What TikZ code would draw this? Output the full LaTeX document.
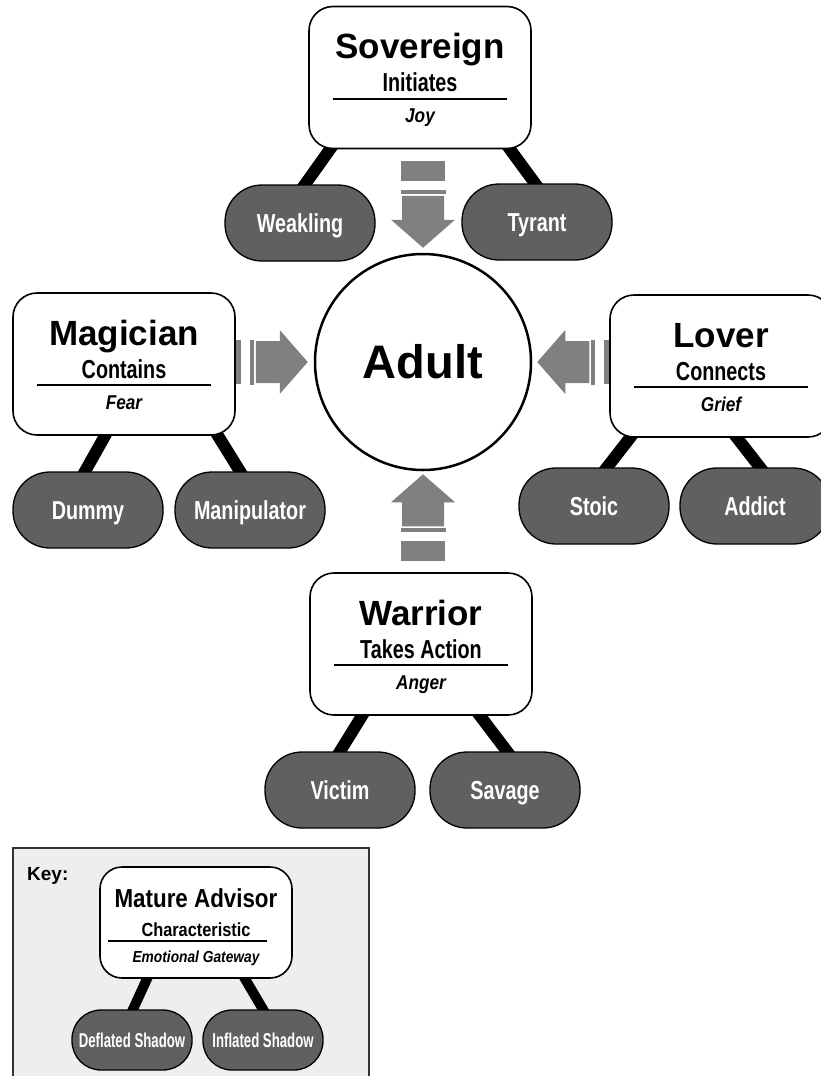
\documentclass[tikz,border=0pt]{standalone}
\usepackage{fontspec}
\setmainfont{Liberation Sans}
\newfontfamily\condfont[FakeStretch=0.76]{Liberation Sans}
\newfontfamily\midfont[FakeStretch=0.86]{Liberation Sans}
\newfontfamily\tightfont[FakeStretch=0.66]{Liberation Sans}
\pgfdeclarelayer{background}
\pgfsetlayers{background,main}
\definecolor{shadowgray}{HTML}{606060}
\definecolor{arrowgray}{HTML}{808080}
\definecolor{keygray}{HTML}{EEEEEE}
\tikzset{
advisor/.style={
	draw, line width=1.6pt, fill=white, rounded corners=24pt,
	minimum width=222pt, minimum height=142pt, inner sep=0pt},
adult/.style={
	draw, circle, line width=2.5pt, fill=white, minimum size=216pt,
	inner sep=0pt, font=\bfseries\fontsize{47}{50}\selectfont,
	text height=33.6pt, text depth=0pt},
shadowpill/.style={
	draw, line width=1.3pt, fill=shadowgray, rounded corners=37pt,
	minimum width=150pt, minimum height=76pt, inner sep=0pt, text=white,
	font=\condfont\bfseries\fontsize{26}{29}\selectfont,
	text height=18.6pt, text depth=0pt},
titletext/.style={anchor=base, inner sep=0pt,
	font=\bfseries\fontsize{35}{40}\selectfont},
traittext/.style={anchor=base, inner sep=0pt,
	font=\condfont\bfseries\fontsize{26}{29}\selectfont},
emotiontext/.style={anchor=base, inner sep=0pt,
	font=\midfont\bfseries\itshape\fontsize{20}{23}\selectfont},
divider/.style={line width=1.6pt},
limb/.style={line width=12pt, shorten <=-8pt, shorten >=-8pt},
keyframe/.style={draw=black!80, line width=1.5pt, fill=keygray}
}
% one advisor: name, centre, title, trait, emotion
\newcommand{\advisor}[5]{%
	\node[advisor] (#1) at (#2) {};
	\node[titletext] (#1-title) at ([yshift=-53pt]#1.north) {#3};
	\node[traittext] (#1-trait) at ([yshift=-86pt]#1.north) {#4};
	\draw[divider] ([xshift=-87pt,yshift=-93pt]#1.north) -- ([xshift=87pt,yshift=-93pt]#1.north);
	\node[emotiontext] (#1-emotion) at ([yshift=-117pt]#1.north) {#5};
}
% grey gateway arrow: tip, angle
\newcommand{\gatearrow}[2]{%
	\begin{scope}[shift={(#1)}, rotate=#2]
		\fill[arrowgray] (0,0) -- (-28,32) -- (-28,21) -- (-52,21) -- (-52,-21)
			-- (-28,-21) -- (-28,-32) -- cycle;
		\fill[arrowgray] (-53.5,-22.5) rectangle (-57.5,22.5);
		\fill[arrowgray] (-67,-22) rectangle (-87,22);
	\end{scope}
}

\begin{document}
\begin{tikzpicture}[x=1pt, y=-1pt]
	\useasboundingbox (0,0) rectangle (820,1076);

	\node[adult] (adult) at (423,362) {Adult};

	\advisor{sovereign}{420,77.5}{Sovereign}{Initiates}{Joy}
	\advisor{magician}{124,364}{Magician}{Contains}{Fear}
	\advisor{lover}{721,366}{Lover}{Connects}{Grief}
	\advisor{warrior}{421,644}{Warrior}{Takes Action}{Anger}

	\node[shadowpill] (weakling) at (300,223) {Weakling};
	\node[shadowpill] (tyrant) at (537,222) {Tyrant};
	\node[shadowpill] (dummy) at (88,510) {Dummy};
	\node[shadowpill] (manipulator) at (250,510) {Manipulator};
	\node[shadowpill] (stoic) at (594,506) {Stoic};
	\node[shadowpill] (addict) at (755,506) {Addict};
	\node[shadowpill] (victim) at (340,790) {Victim};
	\node[shadowpill] (savage) at (505,790) {Savage};

	% key
	\node[anchor=base west, inner sep=0pt, font=\bfseries\fontsize{19}{22}\selectfont]
		(keylabel) at (27,880) {Key:};
	\node[advisor, minimum width=192pt, minimum height=111pt, rounded corners=22pt]
		(mature) at (196,922.5) {};
	\node[anchor=base, inner sep=0pt, font=\midfont\bfseries\fontsize{26}{29}\selectfont]
		(mature-title) at ([yshift=-41pt]mature.north) {Mature Advisor};
	\node[anchor=base, inner sep=0pt, font=\midfont\bfseries\fontsize{19}{22}\selectfont]
		(mature-trait) at ([yshift=-70pt]mature.north) {Characteristic};
	\draw[divider] ([xshift=-88pt,yshift=-75pt]mature.north) -- ([xshift=71pt,yshift=-75pt]mature.north);
	\node[anchor=base, inner sep=0pt, font=\midfont\bfseries\itshape\fontsize{16}{19}\selectfont]
		(mature-emotion) at ([yshift=-96pt]mature.north) {Emotional Gateway};
	\node[shadowpill, minimum width=120pt, minimum height=60pt, rounded corners=29pt,
		font=\tightfont\bfseries\fontsize{20}{23}\selectfont, text height=14.3pt]
		(deflated) at (132,1040) {Deflated Shadow};
	\node[shadowpill, minimum width=120pt, minimum height=60pt, rounded corners=29pt,
		font=\tightfont\bfseries\fontsize{20}{23}\selectfont, text height=14.3pt]
		(inflated) at (263,1040) {Inflated Shadow};

	\begin{pgfonlayer}{background}
		\draw[keyframe] (13,848) rectangle (369,1100);
		\gatearrow{[yshift=5pt]adult.north}{-90}
		\gatearrow{[xshift=-6pt]adult.west}{0}
		\gatearrow{[xshift=5pt]adult.east}{180}
		\gatearrow{[yshift=-3pt]adult.south}{90}
		\draw[limb] ([xshift=-90pt]sovereign.south) -- ([xshift=5pt]weakling.north);
		\draw[limb] ([xshift=90pt]sovereign.south) -- ([xshift=-2pt]tyrant.north);
		\draw[limb] ([xshift=-19pt]magician.south) -- ([xshift=-3pt]dummy.north);
		\draw[limb] ([xshift=94pt]magician.south) -- ([xshift=-10pt]manipulator.north);
		\draw[limb] ([xshift=-91pt]lover.south) -- ([xshift=13pt]stoic.north);
		\draw[limb] ([xshift=16pt]lover.south) -- ([xshift=5pt]addict.north);
		\draw[limb] ([xshift=-59pt]warrior.south) -- (victim.north);
		\draw[limb] ([xshift=59pt]warrior.south) -- ([xshift=2pt]savage.north);
		\draw[limb, line width=10pt] ([xshift=-49pt]mature.south) -- ([xshift=1pt]deflated.north);
		\draw[limb, line width=10pt] ([xshift=49pt]mature.south) -- (inflated.north);
	\end{pgfonlayer}
\end{tikzpicture}
\end{document}
